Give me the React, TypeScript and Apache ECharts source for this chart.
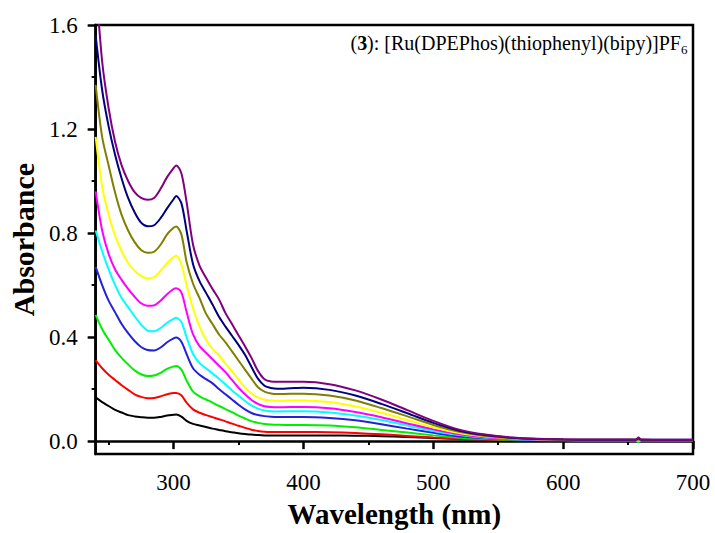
import React, { useEffect, useRef } from "react";
import * as echarts from "echarts";

const wavelengths = [240,245,250,255,260,265,270,275,280,285,290,295,300,302,306,310,315,320,325,330,335,340,345,350,355,360,365,370,375,380,390,400,420,440,460,480,500,520,540,560,580,600,620,640,656,658,660,680,700];

const black = [0.168,0.15,0.135,0.12,0.11,0.1,0.095,0.092,0.09,0.09,0.093,0.098,0.101,0.102,0.094,0.078,0.066,0.06,0.054,0.048,0.043,0.038,0.034,0.03,0.027,0.025,0.023,0.022,0.022,0.022,0.022,0.022,0.022,0.021,0.019,0.016,0.012,0.008,0.006,0.004,0.003,0.002,0.002,0.002,0.002,0.002,0.002,0.002,0.002];
const red = [0.31,0.28,0.255,0.235,0.215,0.197,0.18,0.17,0.165,0.166,0.172,0.18,0.185,0.185,0.176,0.148,0.122,0.109,0.1,0.092,0.084,0.076,0.067,0.059,0.051,0.044,0.039,0.036,0.035,0.035,0.035,0.035,0.034,0.031,0.026,0.02,0.014,0.009,0.006,0.004,0.003,0.003,0.002,0.002,0.002,0.002,0.002,0.002,0.002];
const green = [0.485,0.43,0.39,0.35,0.32,0.295,0.272,0.257,0.25,0.252,0.262,0.278,0.287,0.289,0.275,0.233,0.19,0.172,0.16,0.148,0.135,0.123,0.111,0.098,0.087,0.077,0.07,0.066,0.064,0.063,0.062,0.062,0.06,0.053,0.043,0.033,0.022,0.013,0.008,0.005,0.004,0.003,0.003,0.003,0.003,-0.003,0.003,0.003,0.003];
const blue = [0.67,0.6,0.54,0.495,0.45,0.415,0.385,0.362,0.35,0.348,0.36,0.38,0.395,0.398,0.382,0.335,0.28,0.255,0.238,0.222,0.2,0.18,0.16,0.14,0.122,0.108,0.1,0.096,0.094,0.093,0.093,0.093,0.089,0.08,0.065,0.048,0.032,0.018,0.011,0.007,0.005,0.004,0.003,0.003,0.003,0.003,0.003,0.003,0.003];
const cyan = [0.81,0.73,0.66,0.6,0.55,0.515,0.48,0.448,0.425,0.422,0.435,0.455,0.47,0.474,0.458,0.4,0.335,0.3,0.28,0.26,0.24,0.218,0.195,0.175,0.155,0.137,0.125,0.118,0.115,0.114,0.115,0.115,0.11,0.098,0.081,0.06,0.039,0.023,0.013,0.008,0.005,0.004,0.003,0.003,0.003,-0.002,0.003,0.003,0.003];
const magenta = [0.96,0.81,0.72,0.66,0.62,0.585,0.555,0.53,0.52,0.522,0.54,0.565,0.585,0.588,0.572,0.497,0.41,0.365,0.34,0.315,0.29,0.265,0.235,0.205,0.18,0.158,0.143,0.134,0.131,0.13,0.131,0.131,0.126,0.112,0.092,0.068,0.045,0.026,0.015,0.009,0.006,0.005,0.004,0.004,0.004,0.004,0.004,0.004,0.004];
const yellow = [1.17,0.98,0.87,0.79,0.73,0.685,0.655,0.635,0.625,0.63,0.655,0.685,0.708,0.713,0.68,0.6,0.51,0.44,0.39,0.355,0.33,0.298,0.268,0.237,0.206,0.183,0.168,0.159,0.156,0.155,0.156,0.156,0.15,0.133,0.109,0.081,0.053,0.031,0.018,0.011,0.007,0.005,0.004,0.004,0.004,0.004,0.004,0.004,0.004];
const olive = [1.37,1.17,1.06,0.955,0.87,0.81,0.765,0.735,0.724,0.728,0.755,0.795,0.82,0.825,0.795,0.69,0.605,0.55,0.49,0.45,0.41,0.38,0.345,0.31,0.275,0.24,0.207,0.19,0.183,0.181,0.182,0.182,0.175,0.156,0.127,0.095,0.062,0.036,0.02,0.012,0.008,0.006,0.005,0.005,0.005,0.005,0.005,0.004,0.004];
const navy = [1.56,1.35,1.21,1.1,1.01,0.935,0.88,0.84,0.826,0.83,0.857,0.895,0.93,0.942,0.915,0.81,0.68,0.615,0.57,0.525,0.478,0.44,0.405,0.37,0.332,0.285,0.24,0.213,0.204,0.201,0.203,0.205,0.197,0.175,0.143,0.107,0.07,0.04,0.023,0.013,0.008,0.006,0.005,0.005,0.005,0.011,0.005,0.005,0.005];
const purple = [1.78,1.46,1.28,1.15,1.06,1.0,0.957,0.935,0.928,0.935,0.97,1.015,1.05,1.06,1.03,0.92,0.755,0.675,0.628,0.585,0.545,0.492,0.45,0.407,0.365,0.32,0.27,0.238,0.229,0.228,0.228,0.228,0.219,0.195,0.16,0.119,0.078,0.044,0.025,0.014,0.009,0.007,0.006,0.006,0.006,0.014,0.006,0.005,0.005];

const seriesList = [
  { name: "1", color: "#000000", values: black },
  { name: "2", color: "#ff0000", values: red },
  { name: "3", color: "#00ee00", values: green },
  { name: "4", color: "#2222dd", values: blue },
  { name: "5", color: "#00ffff", values: cyan },
  { name: "6", color: "#ff00ff", values: magenta },
  { name: "7", color: "#ffff00", values: yellow },
  { name: "8", color: "#808000", values: olive },
  { name: "9", color: "#000080", values: navy },
  { name: "10", color: "#800080", values: purple },
];

const xMajorTicks = [300, 400, 500, 600, 700];
const xMinorTicks = [250, 350, 450, 550, 650];
const yMajorTicks = [0, 0.4, 0.8, 1.2, 1.6];
const yMinorTicks = [0.2, 0.6, 1.0, 1.4];

const titleMain = "({b|3}): [Ru(DPEPhos)(thiophenyl)(bipy)]PF";
const titleSub = "6";
const xName = "Wavelength (nm)";
const yName = "Absorbance";

const FONT = "'Liberation Serif', 'Times New Roman', serif";

export default function App() {
  const ref = useRef<HTMLDivElement>(null);
  useEffect(() => {
    if (!ref.current) return;
    const chart = echarts.init(ref.current, null, { renderer: "svg" });
    const axisLineStyle = { color: "#000", width: 2.5 };
    const option: any = {
      animation: false,
      backgroundColor: "#ffffff",
      grid: {
        left: 94,
        right: 22,
        top: 25,
        bottom: 72,
        show: true,
        borderColor: "#000",
        borderWidth: 2.5,
        backgroundColor: "transparent",
      },
      xAxis: [
        {
          type: "value",
          min: 240,
          max: 700,
          position: "bottom",
          axisLine: { show: true, lineStyle: axisLineStyle },
          axisTick: { show: true, customValues: xMajorTicks, length: 8, inside: false, lineStyle: axisLineStyle },
          axisLabel: {
            customValues: xMajorTicks,
            fontSize: 23,
            fontFamily: FONT,
            color: "#000",
            margin: 17,
          },
          splitLine: { show: false },
          name: xName,
          nameLocation: "middle",
          nameGap: 34,
          nameTextStyle: { fontSize: 29, fontWeight: "bold", fontFamily: FONT, color: "#000" },
        },
        {
          type: "value",
          min: 240,
          max: 700,
          position: "bottom",
          axisLine: { show: false },
          axisTick: { show: true, customValues: xMinorTicks, length: 4, lineStyle: { color: "#000", width: 2 } },
          axisLabel: { show: false },
          splitLine: { show: false },
        },
      ],
      yAxis: [
        {
          type: "value",
          min: -0.05,
          max: 1.6,
          position: "left",
          axisLine: { show: true, lineStyle: axisLineStyle },
          axisTick: { show: true, customValues: yMajorTicks, length: 8, inside: false, lineStyle: axisLineStyle },
          axisLabel: {
            customValues: yMajorTicks,
            formatter: (v: number) => v.toFixed(1),
            fontSize: 23,
            fontFamily: FONT,
            color: "#000",
            margin: 18,
          },
          splitLine: { show: false },
          name: yName,
          nameLocation: "middle",
          nameGap: 55,
          nameTextStyle: { fontSize: 30, fontWeight: "bold", fontFamily: FONT, color: "#000" },
        },
        {
          type: "value",
          min: -0.05,
          max: 1.6,
          position: "left",
          axisLine: { show: false },
          axisTick: { show: true, customValues: yMinorTicks, length: 4, lineStyle: { color: "#000", width: 2 } },
          axisLabel: { show: false },
          splitLine: { show: false },
        },
      ],
      series: seriesList.map((s) => ({
        name: s.name,
        type: "line",
        xAxisIndex: 0,
        yAxisIndex: 0,
        data: wavelengths.map((w, i) => [w, s.values[i]]),
        showSymbol: false,
        smooth: 0.3,
        clip: true,
        lineStyle: { color: s.color, width: 2 },
        itemStyle: { color: s.color },
      })),
      graphic: [
        {
          type: "text",
          x: 681,
          y: 43,
          style: {
            text: titleMain,
            align: "right",
            verticalAlign: "middle",
            fontSize: 20,
            fontFamily: FONT,
            fill: "#000",
            rich: {
              b: { fontSize: 20, fontWeight: "bold", fontFamily: FONT, fill: "#000" },
            },
          },
        },
        {
          type: "text",
          x: 681,
          y: 49,
          style: {
            text: titleSub,
            align: "left",
            verticalAlign: "middle",
            fontSize: 13,
            fontFamily: FONT,
            fill: "#000",
          },
        },
      ],
    };
    chart.setOption(option);
    return () => chart.dispose();
  }, []);
  return (
    <div
      ref={ref}
      style={{ position: "fixed", left: 0, top: 0, width: 715, height: 533, background: "#fff" }}
    />
  );
}
